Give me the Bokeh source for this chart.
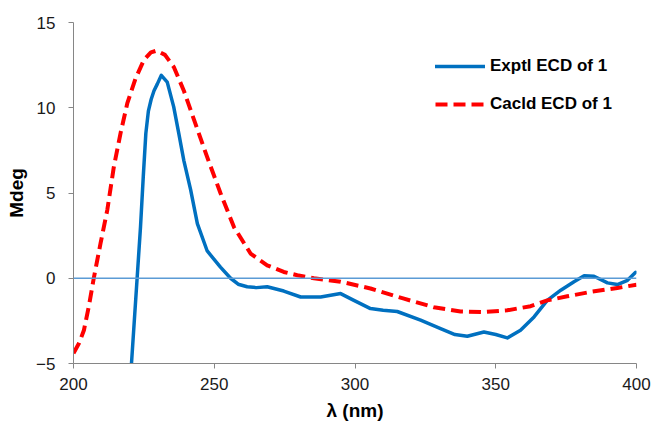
from bokeh.plotting import figure
from bokeh.models import Span, Legend, LegendItem, FixedTicker, Range1d
from bokeh.embed import file_html
from bokeh.resources import INLINE

# Experimental ECD (blue, solid)
exp_x = [220.6, 222.6, 223.8, 224.8, 225.7, 226.6, 227.6, 228.6, 229.8, 231.2,
         233.3, 235.6, 237.4, 239.2, 241.6, 244.0, 247.5, 252.2, 255.8, 258.5,
         261.7, 265.0, 268.8, 274.7, 280.7, 287.8, 294.9, 299.6, 305.5, 310.0,
         315.0, 323.3, 330.4, 335.5, 339.9, 345.8, 350.0, 354.1, 358.8, 363.6,
         368.3, 373.1, 377.8, 381.4, 384.9, 389.7, 393.2, 396.8, 399.7]
exp_y = [-5.0, 0.0, 3.0, 6.0, 8.5, 9.8, 10.5, 11.0, 11.4, 11.9,
         11.5, 10.05, 8.5, 6.9, 5.2, 3.2, 1.6, 0.65, 0.0, -0.35,
         -0.5, -0.55, -0.5, -0.75, -1.1, -1.1, -0.9, -1.3, -1.78, -1.88,
         -1.95, -2.46, -2.95, -3.3, -3.4, -3.15, -3.3, -3.5, -3.05, -2.27,
         -1.3, -0.7, -0.2, 0.15, 0.12, -0.27, -0.37, -0.12, 0.35]

# Calculated ECD (red, dashed)
calc_x = [200.0, 202.0, 203.7, 205.5, 207.2, 209.6, 212.0, 214.3, 216.7, 219.1,
          222.0, 225.0, 227.5, 229.5, 232.5, 235.6, 239.2, 242.8, 247.5, 252.2,
          257.0, 262.9, 268.8, 274.7, 279.5, 285.4, 294.9, 305.5, 317.4, 328.0,
          337.5, 345.8, 354.1, 362.4, 368.3, 375.4, 383.7, 393.2, 400.0]
calc_y = [-4.4, -3.8, -3.05, -1.6, 0.0, 2.04, 4.0, 6.5, 8.5, 10.25,
          11.7, 12.8, 13.25, 13.35, 13.1, 12.4, 11.0, 9.3, 7.1, 5.0,
          3.0, 1.45, 0.76, 0.37, 0.18, 0.0, -0.2, -0.6, -1.2, -1.7,
          -1.95, -1.98, -1.88, -1.64, -1.3, -1.06, -0.8, -0.57, -0.38]

x_ticks = [200, 250, 300, 350, 400]
y_ticks = [-5, 0, 5, 10, 15]
series_names = ["Exptl ECD of 1", "Cacld ECD of 1"]

FONT = "Liberation Sans"
AXIS_GRAY = "#868686"

p = figure(width=656, height=425, output_backend="svg", toolbar_location=None,
           x_range=Range1d(200, 400), y_range=Range1d(-5, 15),
           min_border_left=73, min_border_right=20, min_border_top=22,
           min_border_bottom=62)
p.outline_line_color = None
p.xgrid.grid_line_color = None
p.ygrid.grid_line_color = None
p.background_fill_color = "white"
p.border_fill_color = "white"

zero = Span(location=0, dimension="width", line_color="#5B9BD5", line_width=1.5)
p.add_layout(zero)

r_exp = p.line(exp_x, exp_y, line_color="#0070C0", line_width=3.5,
               line_join="round", line_cap="round")
r_calc = p.line(calc_x, calc_y, line_color="#FF0000", line_width=4,
                line_dash="12 6", line_join="round")

for ax in (p.xaxis[0], p.yaxis[0]):
    ax.axis_line_color = AXIS_GRAY
    ax.axis_line_width = 1
    ax.major_tick_line_color = AXIS_GRAY
    ax.major_tick_in = 0
    ax.major_tick_out = 5
    ax.minor_tick_line_color = None
    ax.major_label_text_font = FONT
    ax.major_label_text_font_size = "17px"
    ax.major_label_text_color = "#1a1a1a"
    ax.axis_label_text_font = FONT
    ax.axis_label_text_font_style = "bold"
    ax.axis_label_text_font_size = "19px"
    ax.axis_label_text_color = "#000000"

p.xaxis[0].ticker = FixedTicker(ticks=x_ticks)
p.yaxis[0].ticker = FixedTicker(ticks=y_ticks)
p.xaxis[0].axis_label = "λ (nm)"
p.yaxis[0].axis_label = "Mdeg"
p.xaxis[0].major_label_standoff = 9
p.yaxis[0].major_label_standoff = 13
p.xaxis[0].axis_label_standoff = 7
p.yaxis[0].axis_label_standoff = 6

legend = Legend(items=[LegendItem(label=series_names[0], renderers=[r_exp]),
                       LegendItem(label=series_names[1], renderers=[r_calc])],
                location=(362, 249))
legend.border_line_color = None
legend.background_fill_alpha = 0
legend.padding = 0
legend.margin = 0
legend.spacing = 18
legend.glyph_width = 50
legend.glyph_height = 20
legend.label_height = 20
legend.label_standoff = 5
legend.label_text_font = FONT
legend.label_text_font_style = "bold"
legend.label_text_font_size = "17px"
legend.label_text_color = "#000000"
p.add_layout(legend)

open("out.html", "w").write(file_html(p, INLINE))
